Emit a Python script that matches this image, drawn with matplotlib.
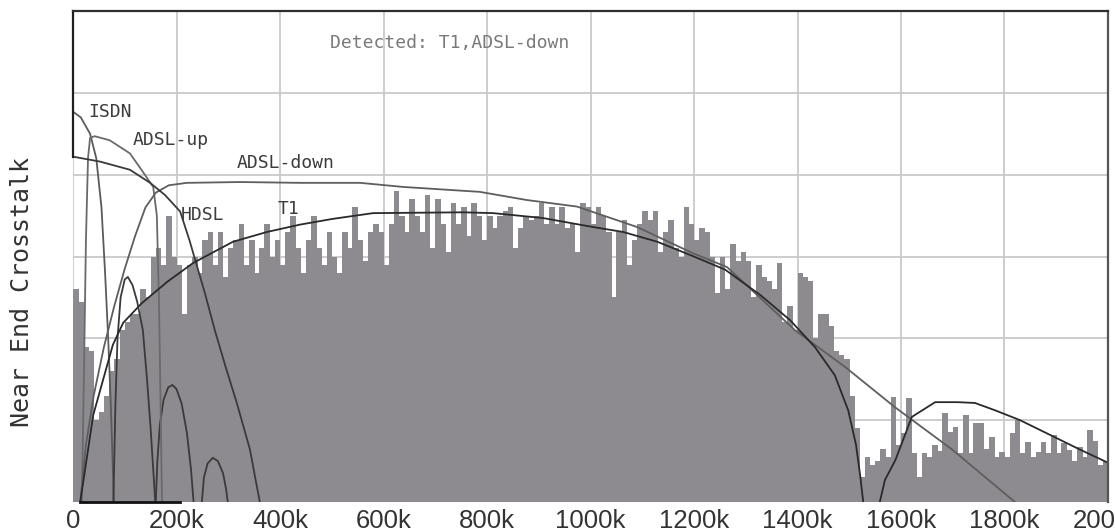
import numpy as np
import matplotlib
matplotlib.use("Agg")
import matplotlib.pyplot as plt

# ---------------- data ----------------
bin_width_k = 10
crosstalk_bins = [
    2.6, 2.45, 1.9, 1.85, 1.0, 1.1, 1.3, 1.6, 1.75, 2.1, 2.2, 2.3, 2.3, 2.6, 2.5, 3.0, 3.1, 2.9, 3.5, 3.0,
    2.9, 2.3, 2.9, 3.0, 2.8, 3.2, 3.3, 2.9, 3.3, 2.75, 3.1, 3.2, 3.4, 2.9, 3.2, 2.8, 3.1, 3.4, 3.0, 3.2,
    2.9, 3.3, 3.5, 3.1, 2.8, 3.2, 3.5, 3.1, 2.9, 3.3, 3.0,
    2.8, 3.3, 3.1, 3.6, 3.2, 2.95, 3.3, 3.4, 3.3, 2.9, 3.4, 3.8, 3.5, 3.3, 3.7, 3.5, 3.3, 3.75, 3.1, 3.7,
    3.4, 3.05, 3.65, 3.4, 3.6,
    3.25, 3.65, 3.5, 3.2, 3.5, 3.35, 3.5, 3.55, 3.6, 3.1, 3.35, 3.5, 3.45, 3.5, 3.65, 3.4, 3.6, 3.4, 3.6,
    3.35, 3.4, 3.05, 3.65, 3.6, 3.4,
    3.6, 3.5, 3.3, 2.5, 3.3, 3.45, 2.9, 3.2, 3.4, 3.55, 3.45, 3.55, 3.05, 3.3, 3.45, 3.1, 3.0, 3.6, 3.4,
    3.2, 3.35, 3.3, 3.0, 2.55, 3.0,
    2.6, 3.15, 2.95, 3.05, 2.95, 2.5, 2.9, 2.75, 2.7, 2.6, 2.92, 2.2, 2.4, 2.1, 2.8, 2.75, 2.7, 2.0, 2.3,
    2.3, 2.15, 1.85, 1.8, 1.75, 1.3,
    0.9, 0.3, 0.55, 0.45, 0.5, 0.65, 0.55, 1.28, 0.7, 0.84, 1.27, 0.6, 0.3, 0.6, 0.55, 0.7, 0.62, 1.09,
    0.85, 0.92, 0.6, 1.06, 0.6, 0.97, 0.97, 0.65, 0.8, 0.55, 0.61, 0.55, 0.84, 1.0, 0.6, 0.73, 0.55, 0.61,
    0.73, 0.6, 0.82, 0.6, 0.72, 0.64, 0.5, 0.67, 0.55, 0.88, 0.75, 0.45, 0.5,
]

# reference PSD curves (frequency in k, level)
isdn_f = [0, 15, 33, 45, 55, 62, 68, 73, 77, 79]
isdn_v = [4.77, 4.7, 4.5, 4.2, 3.6, 2.8, 2.0, 1.2, 0.4, 0.0]
isdn_lobe2_f = [78, 82, 86, 92, 100, 106, 115, 124, 135, 143, 150, 156, 159]
isdn_lobe2_v = [0.0, 1.2, 2.0, 2.5, 2.72, 2.75, 2.65, 2.45, 2.1, 1.5, 0.9, 0.3, 0.0]
isdn_lobe3_f = [160, 163, 168, 175, 184, 192, 200, 210, 220, 228, 233]
isdn_lobe3_v = [0.0, 0.5, 0.95, 1.25, 1.4, 1.43, 1.38, 1.2, 0.85, 0.4, 0.0]
isdn_lobe4_f = [249, 253, 260, 270, 280, 290, 296, 299]
isdn_lobe4_v = [0.0, 0.3, 0.47, 0.54, 0.5, 0.35, 0.15, 0.0]

adsl_up_f = [17, 21, 25, 29, 33, 42, 71, 110, 130, 155, 162, 166, 169, 171, 172]
adsl_up_v = [0.0, 1.5, 3.2, 4.2, 4.45, 4.47, 4.42, 4.26, 4.08, 3.85, 3.5, 2.5, 1.3, 0.4, 0.0]

adsl_down_f = [14, 25, 40, 60, 80, 100, 120, 140, 160, 185, 220, 323, 439, 555, 638, 786, 877, 974,
               1090, 1198, 1264, 1395, 1492, 1588, 1699, 1820]
adsl_down_v = [0.0, 0.7, 1.3, 1.9, 2.4, 2.85, 3.25, 3.6, 3.78, 3.87, 3.9, 3.91, 3.9, 3.9, 3.85, 3.79,
               3.69, 3.61, 3.36, 3.04, 2.87, 2.1, 1.65, 1.16, 0.64, 0.0]

hdsl_f = [0, 52, 110, 149, 178, 207, 225, 236, 255, 274, 295, 317, 342, 352, 361]
hdsl_v = [4.22, 4.16, 4.06, 3.9, 3.75, 3.55, 3.2, 2.96, 2.55, 2.1, 1.65, 1.2, 0.64, 0.3, 0.0]

t1_f = [14, 39, 77, 97, 133, 182, 232, 309, 375, 439, 502, 580, 754, 812, 908, 1005, 1063, 1129,
        1192, 1260, 1328, 1386, 1434, 1472, 1498, 1513, 1521, 1527]
t1_v = [0.0, 1.06, 1.92, 2.19, 2.43, 2.69, 2.92, 3.18, 3.3, 3.39, 3.46, 3.53, 3.54, 3.53, 3.47, 3.36,
        3.3, 3.18, 3.02, 2.84, 2.53, 2.22, 1.89, 1.55, 1.12, 0.7, 0.33, 0.0]
t1_lobe2_f = [1559, 1569, 1589, 1621, 1666, 1710, 1743, 1782, 1830, 1888, 1946, 2000]
t1_lobe2_v = [0.0, 0.27, 0.51, 1.04, 1.22, 1.22, 1.21, 1.12, 1.0, 0.82, 0.64, 0.48]

curve_labels = ["ISDN", "ADSL-up", "ADSL-down", "HDSL", "T1"]
curve_label_pos = [(29, 4.77), (116, 4.42), (317, 4.14), (209, 3.51), (396, 3.58)]
detected_text = "Detected: T1,ADSL-down"

x_ticks = [0, 200, 400, 600, 800, 1000, 1200, 1400, 1600, 1800, 2000]
x_ticklabels = ["0", "200k", "400k", "600k", "800k", "1000k", "1200k", "1400k", "1600k", "1800k", "2000k"]
y_label = "Near End Crosstalk"

# ---------------- figure ----------------
fig = plt.figure(figsize=(11.15, 5.31), dpi=100)
fig.patch.set_facecolor("white")
ax = fig.add_axes([73 / 1115, 1 - 502 / 531, (1108 - 73) / 1115, (502 - 11) / 531])
ax.set_xlim(0, 2000)
ax.set_ylim(0, 6)

ax.set_xticks(x_ticks)
ax.set_xticklabels(x_ticklabels, fontfamily="Liberation Sans", fontsize=18.5, color="#333333")
ax.set_yticks(range(0, 7))
ax.set_yticklabels([])
ax.tick_params(axis="both", length=0, pad=5)
ax.grid(True, color="#c9c9cc", linewidth=1.3, zorder=1)
ax.set_axisbelow(True)

bar_color = "#8d8b8f"
bar_x = np.arange(len(crosstalk_bins)) * bin_width_k
ax.bar(bar_x, crosstalk_bins, width=bin_width_k * 1.08, align="edge", color=bar_color,
       linewidth=0, antialiased=False, zorder=2)

line_kw = dict(linewidth=1.3, zorder=4)
ax.plot(isdn_f, isdn_v, color="#5a5a5a", **line_kw)
ax.plot(isdn_lobe2_f, isdn_lobe2_v, color="#3a3a3a", **line_kw)
ax.plot(isdn_lobe3_f, isdn_lobe3_v, color="#3a3a3a", **line_kw)
ax.plot(isdn_lobe4_f, isdn_lobe4_v, color="#3a3a3a", **line_kw)
ax.plot(adsl_up_f, adsl_up_v, color="#6a6a6a", **line_kw)
ax.plot(adsl_down_f, adsl_down_v, color="#5e5e5e", **line_kw)
ax.plot(hdsl_f, hdsl_v, color="#3a3a3a", **line_kw)
ax.plot(t1_f, t1_v, color="#2a2a2a", **line_kw)
ax.plot(t1_lobe2_f, t1_lobe2_v, color="#2a2a2a", **line_kw)

# dark baseline segment at the bottom left
ax.plot([14, 207], [0, 0], color="#111111", linewidth=2.0, zorder=5, clip_on=False)

for lab, (lx, ly) in zip(curve_labels, curve_label_pos):
    ax.text(lx, ly, lab, fontfamily="DejaVu Sans Mono", fontsize=13, color="#3c3c3c",
            ha="left", va="center", zorder=6)
ax.text(497, 5.61, detected_text, fontfamily="DejaVu Sans Mono", fontsize=13, color="#7a7a7a",
        ha="left", va="center", zorder=6)

for side in ["top", "left", "right", "bottom"]:
    ax.spines[side].set_zorder(7)
ax.spines["top"].set_color("#2e2e2e")
ax.spines["top"].set_linewidth(1.6)
ax.spines["right"].set_color("#555555")
ax.spines["right"].set_linewidth(1.6)
ax.spines["left"].set_color("#1e1e1e")
ax.spines["left"].set_linewidth(1.6)
ax.spines["left"].set_bounds(4.22, 6)
ax.spines["bottom"].set_visible(False)

fig.text(22 / 1115, 1 - 292 / 531, y_label, rotation=90, ha="center", va="center",
         fontfamily="DejaVu Sans Mono", fontsize=18, color="#333333")

fig.savefig("out.png", dpi=100, facecolor="white")
